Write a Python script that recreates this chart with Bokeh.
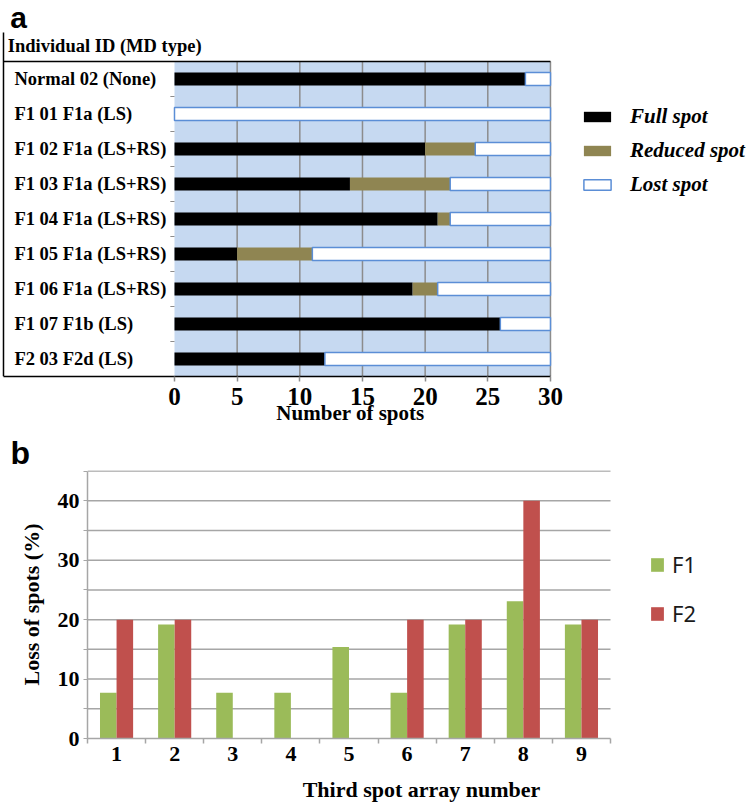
from bokeh.plotting import figure
from bokeh.models import (Range1d, FixedTicker, Legend, LegendItem, ColumnDataSource, LinearAxis, Title)
from bokeh.transform import dodge
from bokeh.core.properties import value
from bokeh.embed import file_html
from bokeh.resources import INLINE

# ---------------- data: panel a ----------------
individuals = ["Normal 02 (None)", "F1 01 F1a (LS)", "F1 02 F1a (LS+RS)", "F1 03 F1a (LS+RS)",
               "F1 04 F1a (LS+RS)", "F1 05 F1a (LS+RS)", "F1 06 F1a (LS+RS)", "F1 07 F1b (LS)",
               "F2 03 F2d (LS)"]
full_spot = [28, 0, 20, 14, 21, 5, 19, 26, 12]
reduced_spot = [0, 0, 4, 8, 1, 6, 2, 0, 0]
lost_spot = [2, 30, 6, 8, 8, 19, 9, 4, 18]
x_ticks_a = [0, 5, 10, 15, 20, 25, 30]

# ---------------- data: panel b ----------------
array_numbers = [1, 2, 3, 4, 5, 6, 7, 8, 9]
f1_loss = [7.7, 19.2, 7.7, 7.7, 15.4, 7.7, 19.2, 23.1, 19.2]
f2_loss = [20, 20, 0, 0, 0, 20, 20, 40, 20]
y_ticks_b = [0, 10, 20, 30, 40]
y_minor_b = [5, 15, 25, 35, 45]

SERIF = value("Liberation Serif")
W = 755

# ================= panel a =================
n = len(individuals)
rows = [n - 1 - i for i in range(n)]
red_r = [f + r for f, r in zip(full_spot, reduced_spot)]
lost_r = [f + r + l for f, r, l in zip(full_spot, reduced_spot, lost_spot)]
src_a = ColumnDataSource(dict(y=rows, name=individuals, zero=[0] * n,
                              full_r=full_spot, red_r=red_r, lost_r=lost_r))

xmax = x_ticks_a[-1]
XL = -13.644          # left edge of the table box
pa = figure(width=W, height=432, x_range=Range1d(-13.883, 46.36),
            y_range=Range1d(-0.5, 10.243), output_backend="svg", toolbar_location=None,
            min_border_left=0, min_border_right=0, min_border_top=0, min_border_bottom=56,
            y_axis_location=None)
pa.outline_line_color = None
pa.xgrid.grid_line_color = None
pa.ygrid.grid_line_color = None

# blue plot area
pa.quad(left=0, right=xmax, bottom=-0.5, top=n - 0.5, fill_color="#c6d9f1", line_color=None)
# vertical grid lines
grid_x = x_ticks_a[1:]
pa.segment(x0=grid_x, y0=[-0.5] * len(grid_x), x1=grid_x, y1=[n - 0.5] * len(grid_x),
           line_color="#8c8c8c", line_width=1.5)
# category boundary ticks
bnd = [r + 0.5 for r in range(n - 1)]
pa.segment(x0=[-0.33] * len(bnd), y0=bnd, x1=[0] * len(bnd), y1=bnd, line_color="#8c8c8c", line_width=1.2)

h = 0.37
r_full = pa.hbar(y="y", left="zero", right="full_r", height=h, source=src_a,
                 fill_color="black", line_color=None)
r_red = pa.hbar(y="y", left="full_r", right="red_r", height=h, source=src_a,
                fill_color="#8f8552", line_color=None)
r_lost = pa.hbar(y="y", left="red_r", right="lost_r", height=h, source=src_a,
                 fill_color="white", line_color="#5b8ed6", line_width=1.5)

# header row and table box lines
pa.segment(x0=[XL], y0=[n - 0.5], x1=[xmax], y1=[n - 0.5], line_color="black", line_width=1.5)
pa.segment(x0=[XL], y0=[-0.5], x1=[XL], y1=[9.33], line_color="black", line_width=1.5)
pa.text(x=[-13.3], y=[n - 0.5 + 0.43], text=["Individual ID (MD type)"], text_font=SERIF,
        text_font_style="bold", text_font_size="18.5px", text_baseline="middle", text_align="left")
pa.text(x=-12.77, y="y", text="name", source=src_a, text_font=SERIF, text_font_style="bold",
        text_font_size="18.5px", text_baseline="middle", text_align="left")
pa.text(x=[-13.1], y=[9.77], text=["a"], text_font=value("Liberation Sans"), text_font_style="bold",
        text_font_size="30px", text_baseline="alphabetic", text_align="left")

xa = pa.xaxis[0]
xa.bounds = (XL, xmax)
xa.ticker = FixedTicker(ticks=x_ticks_a)
xa.major_label_text_font = "Liberation Serif"
xa.major_label_text_font_style = "bold"
xa.major_label_text_font_size = "25px"
xa.major_label_text_color = "black"
xa.axis_line_color = "black"
xa.axis_line_width = 1.5
xa.major_tick_line_color = "#8c8c8c"
xa.major_tick_line_width = 1.5
xa.major_tick_out = 5
xa.major_tick_in = 0
xa.minor_tick_line_color = None
xa.major_label_standoff = 6

# axis title, centred on the bar area (0..30) via a second axis
title_pos = 14.04
xt = LinearAxis(ticker=FixedTicker(ticks=[title_pos]), major_label_overrides={title_pos: "Number of spots"},
                axis_line_color=None, major_tick_line_color=None, minor_tick_line_color=None,
                major_tick_out=0, major_tick_in=0, minor_tick_out=0, minor_tick_in=0,
                major_label_standoff=-7, major_label_text_font="Liberation Serif",
                major_label_text_font_style="bold", major_label_text_font_size="21px",
                major_label_text_color="black")
pa.add_layout(xt, "below")

leg_a = Legend(items=[LegendItem(label="Full spot", renderers=[r_full]),
                      LegendItem(label="Reduced spot", renderers=[r_red]),
                      LegendItem(label="Lost spot", renderers=[r_lost])],
               location=(580, 179))
leg_a.label_text_font = "Liberation Serif"
leg_a.label_text_font_style = "bold italic"
leg_a.label_text_font_size = "21px"
leg_a.label_text_color = "black"
leg_a.glyph_width = 34
leg_a.glyph_height = 13
leg_a.label_height = 24
leg_a.spacing = 9
leg_a.label_standoff = 16
leg_a.padding = 0
leg_a.margin = 0
leg_a.border_line_color = None
leg_a.background_fill_alpha = 0
pa.add_layout(leg_a, "center")

# ================= panel b =================
src_b = ColumnDataSource(dict(x=array_numbers, f1=f1_loss, f2=f2_loss))
x0b, x1b = 0.5, len(array_numbers) + 0.5
pb = figure(width=W, height=374, x_range=Range1d(x0b, 11.995),
            y_range=Range1d(0, 45.1), output_backend="svg", toolbar_location=None,
            min_border_left=87, min_border_right=0, min_border_top=0, min_border_bottom=68)
pb.outline_line_color = None
pb.xgrid.grid_line_color = None
pb.ygrid.grid_line_color = None

tb = Title(text="b", align="left", offset=-77, standoff=0, text_font="Liberation Sans",
           text_font_style="bold", text_font_size="32px", text_color="black")
pb.add_layout(tb, "above")

grid_y = sorted(y_ticks_b[1:] + y_minor_b)
pb.segment(x0=[x0b] * len(grid_y), y0=grid_y, x1=[x1b] * len(grid_y), y1=grid_y,
           line_color="#a6a6a6", line_width=1.5)

bw = 0.285
b1 = pb.vbar(x=dodge("x", -bw / 2, range=pb.x_range), top="f1", width=bw, source=src_b,
             fill_color="#9bbb59", line_color=None)
b2 = pb.vbar(x=dodge("x", bw / 2, range=pb.x_range), top="f2", width=bw, source=src_b,
             fill_color="#c0504d", line_color=None)

xb = pb.xaxis[0]
xb.bounds = (x0b, x1b)
xb.ticker = FixedTicker(ticks=array_numbers, minor_ticks=[a - 0.5 for a in array_numbers] + [x1b])
xb.major_tick_out = 0
xb.major_tick_in = 0
xb.minor_tick_out = 5
xb.minor_tick_in = 0
xb.minor_tick_line_color = "#a6a6a6"
xb.minor_tick_line_width = 1.5
xb.axis_line_color = "#a6a6a6"
xb.axis_line_width = 1.5
xb.major_label_text_font = "Liberation Serif"
xb.major_label_text_font_style = "bold"
xb.major_label_text_font_size = "22px"
xb.major_label_text_color = "black"
xb.major_label_standoff = 3
xb.axis_label = "Third spot array number"
xb.axis_label_text_font = "Liberation Serif"
xb.axis_label_text_font_style = "bold"
xb.axis_label_text_font_size = "22px"
xb.axis_label_text_color = "black"
xb.axis_label_standoff = 13

yb = pb.yaxis[0]
yb.bounds = (0, 45)
yb.ticker = FixedTicker(ticks=y_ticks_b, minor_ticks=y_minor_b)
yb.major_tick_out = 4
yb.major_tick_in = 0
yb.minor_tick_out = 4
yb.minor_tick_in = 0
yb.major_tick_line_color = "#a6a6a6"
yb.minor_tick_line_color = "#a6a6a6"
yb.axis_line_color = "#a6a6a6"
yb.axis_line_width = 1.5
yb.major_label_text_font = "Liberation Serif"
yb.major_label_text_font_style = "bold"
yb.major_label_text_font_size = "22px"
yb.major_label_text_color = "black"
yb.major_label_standoff = 4
yb.axis_label = "Loss of spots (%)"
yb.axis_label_text_font = "Liberation Serif"
yb.axis_label_text_font_style = "bold"
yb.axis_label_text_font_size = "22px"
yb.axis_label_text_color = "black"
yb.axis_label_standoff = 11

leg_b = Legend(items=[LegendItem(label="F1", renderers=[b1]), LegendItem(label="F2", renderers=[b2])],
               location=(562, 110))
leg_b.label_text_font = "Noto Sans"
leg_b.label_text_font_size = "22px"
leg_b.label_text_color = "#1a1a1a"
leg_b.glyph_width = 16
leg_b.glyph_height = 17
leg_b.label_height = 24
leg_b.spacing = 19
leg_b.label_standoff = 7
leg_b.padding = 0
leg_b.margin = 0
leg_b.border_line_color = None
leg_b.background_fill_alpha = 0
pb.add_layout(leg_b, "center")

open("out.html", "w").write(file_html([pa, pb], INLINE))
